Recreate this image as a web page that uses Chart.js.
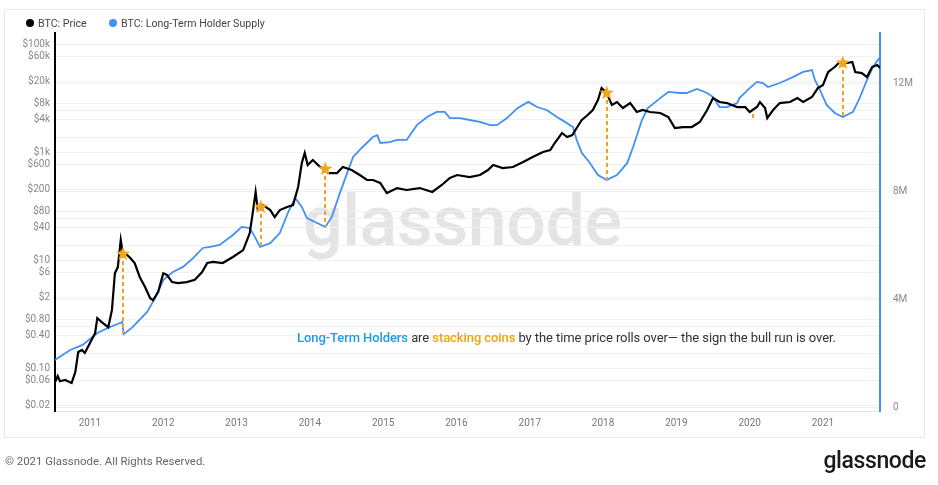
<!DOCTYPE html>
<html>
<head>
<meta charset="utf-8">
<script src="https://cdn.jsdelivr.net/npm/chart.js@4"></script>
<style>
  body { margin: 0; background: #fff; font-family: Roboto, "Noto Sans", sans-serif; }
  #wrap { position: relative; width: 938px; height: 485px; overflow: hidden; }
  #panel { position: absolute; left: 4px; top: 9px; width: 919px; height: 427px; border: 1px solid #e8e8e8; }
  #watermark { position: absolute; left: 303px; top: 186px; font-size: 70px; font-weight: 500; color: #e4e4e4; line-height: 1; letter-spacing: -0.5px; }
  #chart { position: absolute; left: 0; top: 0; }
  .legend { position: absolute; top: 17px; font-size: 10.6px; color: #444; line-height: 14px; white-space: nowrap; }
  .dot { display: inline-block; width: 8px; height: 8px; border-radius: 50%; margin-right: 4px; }
  #note { position: absolute; left: 297px; top: 330px; font-size: 13px; line-height: 16px; color: #333; white-space: nowrap; letter-spacing: -0.08px; }
  #note .b { color: #1e9be6; font-weight: 500; }
  #note .o { color: #f0a30a; font-weight: 500; }
  #footer { position: absolute; left: 5px; top: 454px; font-size: 11.4px; color: #666; }
  #logo { position: absolute; right: 12px; top: 447px; font-size: 23px; font-weight: 500; color: #1a1a1a; letter-spacing: -0.4px; }
</style>
</head>
<body>
<div id="wrap">
  <div id="panel"></div>
  <div id="watermark">glassnode</div>
  <canvas id="chart" width="938" height="485"></canvas>
  <div class="legend" style="left:26px"><span class="dot" style="background:#000"></span>BTC: Price</div>
  <div class="legend" style="left:109px"><span class="dot" style="background:#4290f5"></span>BTC: Long-Term Holder Supply</div>
  <div id="note"><span class="b">Long-Term Holders</span> are <span class="o">stacking coins</span> by the time price rolls over— the sign the bull run is over.</div>
  <div id="footer">© 2021 Glassnode. All Rights Reserved.</div>
  <div id="logo">glassnode</div>
</div>
<script>
// BTC price (USD), dates as decimal years
const priceDates = [
  2010.52, 2010.56, 2010.59, 2010.66, 2010.75, 2010.80, 2010.84, 2010.89, 2010.93,
  2011.00, 2011.07, 2011.10, 2011.16, 2011.25, 2011.30, 2011.34, 2011.38, 2011.42, 2011.45, 2011.48,
  2011.55, 2011.61, 2011.68, 2011.75, 2011.82, 2011.86, 2011.93,
  2012.00, 2012.05, 2012.12, 2012.20, 2012.32, 2012.43, 2012.53, 2012.60, 2012.68, 2012.81, 2012.95,
  2013.09, 2013.18, 2013.22, 2013.26, 2013.29, 2013.33, 2013.36, 2013.46, 2013.52, 2013.59, 2013.69,
  2013.77, 2013.84, 2013.89, 2013.93, 2013.97,
  2014.04, 2014.14, 2014.21, 2014.25, 2014.37, 2014.45, 2014.57, 2014.68, 2014.78, 2014.86, 2014.96,
  2015.05, 2015.19, 2015.32, 2015.50, 2015.67, 2015.80, 2015.91,
  2016.01, 2016.18, 2016.32, 2016.43, 2016.50, 2016.63, 2016.77, 2016.91,
  2017.04, 2017.18, 2017.28, 2017.34, 2017.44, 2017.51, 2017.58, 2017.64, 2017.71, 2017.79, 2017.86,
  2017.93, 2017.98,
  2018.05, 2018.12, 2018.19, 2018.27, 2018.37, 2018.46, 2018.54, 2018.64, 2018.78, 2018.89, 2018.98,
  2019.09, 2019.21, 2019.32, 2019.42, 2019.50, 2019.59, 2019.69, 2019.83, 2019.94,
  2020.00, 2020.10, 2020.14, 2020.21, 2020.24, 2020.32, 2020.41, 2020.55, 2020.65, 2020.73, 2020.85,
  2020.93,
  2021.00, 2021.07, 2021.16, 2021.23, 2021.27, 2021.33, 2021.40, 2021.44, 2021.53, 2021.60, 2021.67,
  2021.74, 2021.78
];
const priceValues = [
  0.053, 0.071, 0.057, 0.060, 0.053, 0.084, 0.198, 0.216, 0.19,
  0.29, 0.44, 0.84, 0.71, 0.57, 1.19, 5.7, 7.4, 23.5, 12.9, 13.5,
  10.9, 8.8, 4.8, 3.2, 1.98, 1.8, 2.55,
  5.7, 5.3, 3.9, 3.75, 3.9, 4.3, 6.0, 8.8, 9.2, 8.8, 11.4,
  15.3, 31.6, 74, 182, 84, 96, 104, 84, 62.5, 84, 96,
  104, 225, 626, 958, 574,
  711, 527, 484, 408, 408, 527, 464, 375, 303, 303, 267,
  174, 215, 198, 215, 182, 245, 330,
  375, 344, 375, 464, 574, 505, 527, 653,
  808, 1000, 1089, 1468, 2250, 1897, 2066, 2783, 3917, 4842, 5995,
  9180, 15300,
  12380, 7420, 8430, 6530, 8070, 5510, 5995, 5510, 5280, 4450, 2783,
  2900, 2900, 3600, 6000, 10000, 8430, 8070, 6810, 6810,
  5510, 6810, 8430, 6530, 4260, 6000, 8070, 8430, 10000, 8430, 10440,
  15300,
  17400, 30300, 37500, 46400, 44500, 44500, 46400, 30300, 29000, 24500, 37500,
  40800, 35900
];

// Long-term holder supply (millions of BTC)
const supplyDates = [
  2010.52, 2010.73, 2010.90,
  2011.10, 2011.27, 2011.41, 2011.44, 2011.46, 2011.57, 2011.65, 2011.78, 2011.89,
  2012.00, 2012.13, 2012.27, 2012.41, 2012.54, 2012.64, 2012.77, 2012.95,
  2013.07, 2013.18, 2013.25, 2013.32, 2013.46, 2013.59, 2013.70, 2013.80, 2013.89, 2013.96,
  2014.07, 2014.21, 2014.30, 2014.41, 2014.51, 2014.59, 2014.72, 2014.86, 2014.92, 2014.96,
  2015.09, 2015.19, 2015.32, 2015.46, 2015.60, 2015.73, 2015.84, 2015.91,
  2016.05, 2016.18, 2016.32, 2016.46, 2016.55, 2016.69, 2016.83, 2016.98,
  2017.10, 2017.23, 2017.37, 2017.48, 2017.59, 2017.64, 2017.71, 2017.82, 2017.93,
  2018.05, 2018.19, 2018.33, 2018.41, 2018.53, 2018.61, 2018.78, 2018.89,
  2019.05, 2019.14, 2019.28, 2019.42, 2019.50, 2019.59, 2019.69, 2019.83, 2019.86,
  2020.00, 2020.10, 2020.18, 2020.25, 2020.41, 2020.59, 2020.73, 2020.85, 2020.89, 2020.96,
  2021.05, 2021.16, 2021.27, 2021.41, 2021.50, 2021.60, 2021.68, 2021.78
];
const supplyValues = [
  1.74, 2.11, 2.30,
  2.74, 2.96, 3.11, 3.15, 2.70, 2.93, 3.15, 3.52, 4.04,
  4.70, 5.00, 5.19, 5.52, 5.89, 5.93, 6.00, 6.37,
  6.67, 6.63, 6.30, 5.93, 6.07, 6.44, 7.19, 7.74, 7.41, 7.00,
  6.85, 6.67, 7.04, 7.93, 8.67, 9.26, 9.63, 10.00, 10.07, 9.78,
  9.81, 9.89, 9.89, 10.44, 10.74, 10.93, 10.93, 10.70,
  10.70, 10.63, 10.56, 10.44, 10.44, 10.70, 11.07, 11.30,
  11.11, 11.00, 10.74, 10.56, 10.37, 9.89, 9.41, 9.04, 8.59,
  8.41, 8.59, 9.04, 9.63, 10.63, 11.07, 11.44, 11.67,
  11.63, 11.63, 11.78, 11.63, 11.48, 11.11, 11.11, 11.26, 11.44,
  11.81, 12.04, 12.00, 11.85, 12.00, 12.22, 12.41, 12.48, 12.11, 11.74,
  11.19, 10.89, 10.74, 10.93, 11.44, 12.11, 12.59, 12.96
];

const yearTicks = [2011, 2012, 2013, 2014, 2015, 2016, 2017, 2018, 2019, 2020, 2021];
const priceTicks = [100000, 60000, 20000, 8000, 4000, 1000, 600, 200, 80, 40, 10, 6, 2, 0.8, 0.4, 0.1, 0.06, 0.02];
const priceTickLabels = ["$100k", "$60k", "$20k", "$8k", "$4k", "$1k", "$600", "$200", "$80", "$40", "$10", "$6", "$2", "$0.80", "$0.40", "$0.10", "$0.06", "$0.02"];
const supplyTicks = [0, 1, 2, 3, 4, 5, 6, 7, 8, 9, 10, 11, 12, 13];
const supplyTickLabels = ["0", "", "", "", "4M", "", "", "", "8M", "", "", "", "12M", ""];

// cycle tops: star on the price, dashed drop to the LTH supply low
const starDates = [2011.45, 2013.33, 2014.21, 2018.05, 2021.27];
const starPrices = [12.9, 96, 484, 12400, 44500];
const starSupply = [2.70, 5.93, 6.67, 8.41, 10.74];
// small dotted mark early 2020
const markDates = [2020.05];
const markTop = [5060];
const markBottom = [3750];

function drawStar(ctx, cx, cy, r1, r2) {
  ctx.beginPath();
  for (let i = 0; i < 10; i++) {
    const r = i % 2 === 0 ? r1 : r2;
    const a = -Math.PI / 2 + i * Math.PI / 5;
    const px = cx + r * Math.cos(a), py = cy + r * Math.sin(a);
    if (i === 0) ctx.moveTo(px, py); else ctx.lineTo(px, py);
  }
  ctx.closePath();
  ctx.fill();
}

const markers = {
  id: "markers",
  afterDatasetsDraw(chart) {
    const { ctx, scales: { x, y, y1 } } = chart;
    ctx.save();
    ctx.strokeStyle = "#f0a31c";
    ctx.lineWidth = 2;
    ctx.setLineDash([4, 3]);
    starDates.forEach((d, i) => {
      const px = Math.round(x.getPixelForValue(d));
      ctx.beginPath();
      ctx.moveTo(px, y.getPixelForValue(starPrices[i]));
      ctx.lineTo(px, y1.getPixelForValue(starSupply[i]));
      ctx.stroke();
    });
    markDates.forEach((d, i) => {
      const px = Math.round(x.getPixelForValue(d));
      ctx.beginPath();
      ctx.moveTo(px, y.getPixelForValue(markTop[i]));
      ctx.lineTo(px, y.getPixelForValue(markBottom[i]));
      ctx.stroke();
    });
    ctx.setLineDash([]);
    ctx.fillStyle = "#f2a81e";
    starDates.forEach((d, i) => {
      drawStar(ctx, x.getPixelForValue(d), y.getPixelForValue(starPrices[i]), 7.5, 3.2);
    });
    ctx.restore();
  }
};

Chart.defaults.font.family = "Roboto, 'Noto Sans', sans-serif";

new Chart(document.getElementById("chart"), {
  type: "line",
  data: {
    datasets: [
      {
        label: "BTC: Price",
        data: priceDates.map((d, i) => ({ x: d, y: priceValues[i] })),
        borderColor: "#000",
        borderWidth: 2.2,
        pointRadius: 0,
        yAxisID: "y"
      },
      {
        label: "BTC: Long-Term Holder Supply",
        data: supplyDates.map((d, i) => ({ x: d, y: supplyValues[i] })),
        borderColor: "#4290f5",
        borderWidth: 1.8,
        pointRadius: 0,
        yAxisID: "y1"
      }
    ]
  },
  options: {
    responsive: false,
    animation: false,
    devicePixelRatio: 1,
    layout: { padding: { top: 33, left: 0, right: 0, bottom: 0 } },
    plugins: { legend: { display: false }, tooltip: { enabled: false } },
    scales: {
      x: {
        type: "linear",
        min: 2010.523,
        max: 2021.778,
        grid: { display: false, drawTicks: false },
        border: { color: "#e3e3e3" },
        ticks: { padding: 6, color: "#777", font: { size: 10 }, autoSkip: false, maxRotation: 0, callback: v => String(v) },
        afterBuildTicks: s => { s.ticks = yearTicks.map(v => ({ value: v })); },
        afterFit: s => { s.height = 74; }
      },
      y: {
        type: "logarithmic",
        position: "left",
        min: 0.016,
        max: 160000,
        grid: { color: "#f1f1f1", drawTicks: false },
        border: { color: "#000", width: 2 },
        ticks: { padding: 5, color: "#888", font: { size: 10 }, autoSkip: false, callback: (v, i) => priceTickLabels[i] },
        afterBuildTicks: s => { s.ticks = priceTicks.map(v => ({ value: v })); },
        afterFit: s => { s.width = 55; }
      },
      y1: {
        type: "linear",
        position: "right",
        min: -0.148,
        max: 13.852,
        grid: { color: "#f1f1f1", drawTicks: false },
        border: { color: "#4290f5", width: 2 },
        ticks: { padding: 13, color: "#888", font: { size: 10 }, autoSkip: false, callback: (v, i) => supplyTickLabels[i] },
        afterBuildTicks: s => { s.ticks = supplyTicks.map(v => ({ value: v })); },
        afterFit: s => { s.width = 58; }
      }
    }
  },
  plugins: [markers]
});
</script>
</body>
</html>
